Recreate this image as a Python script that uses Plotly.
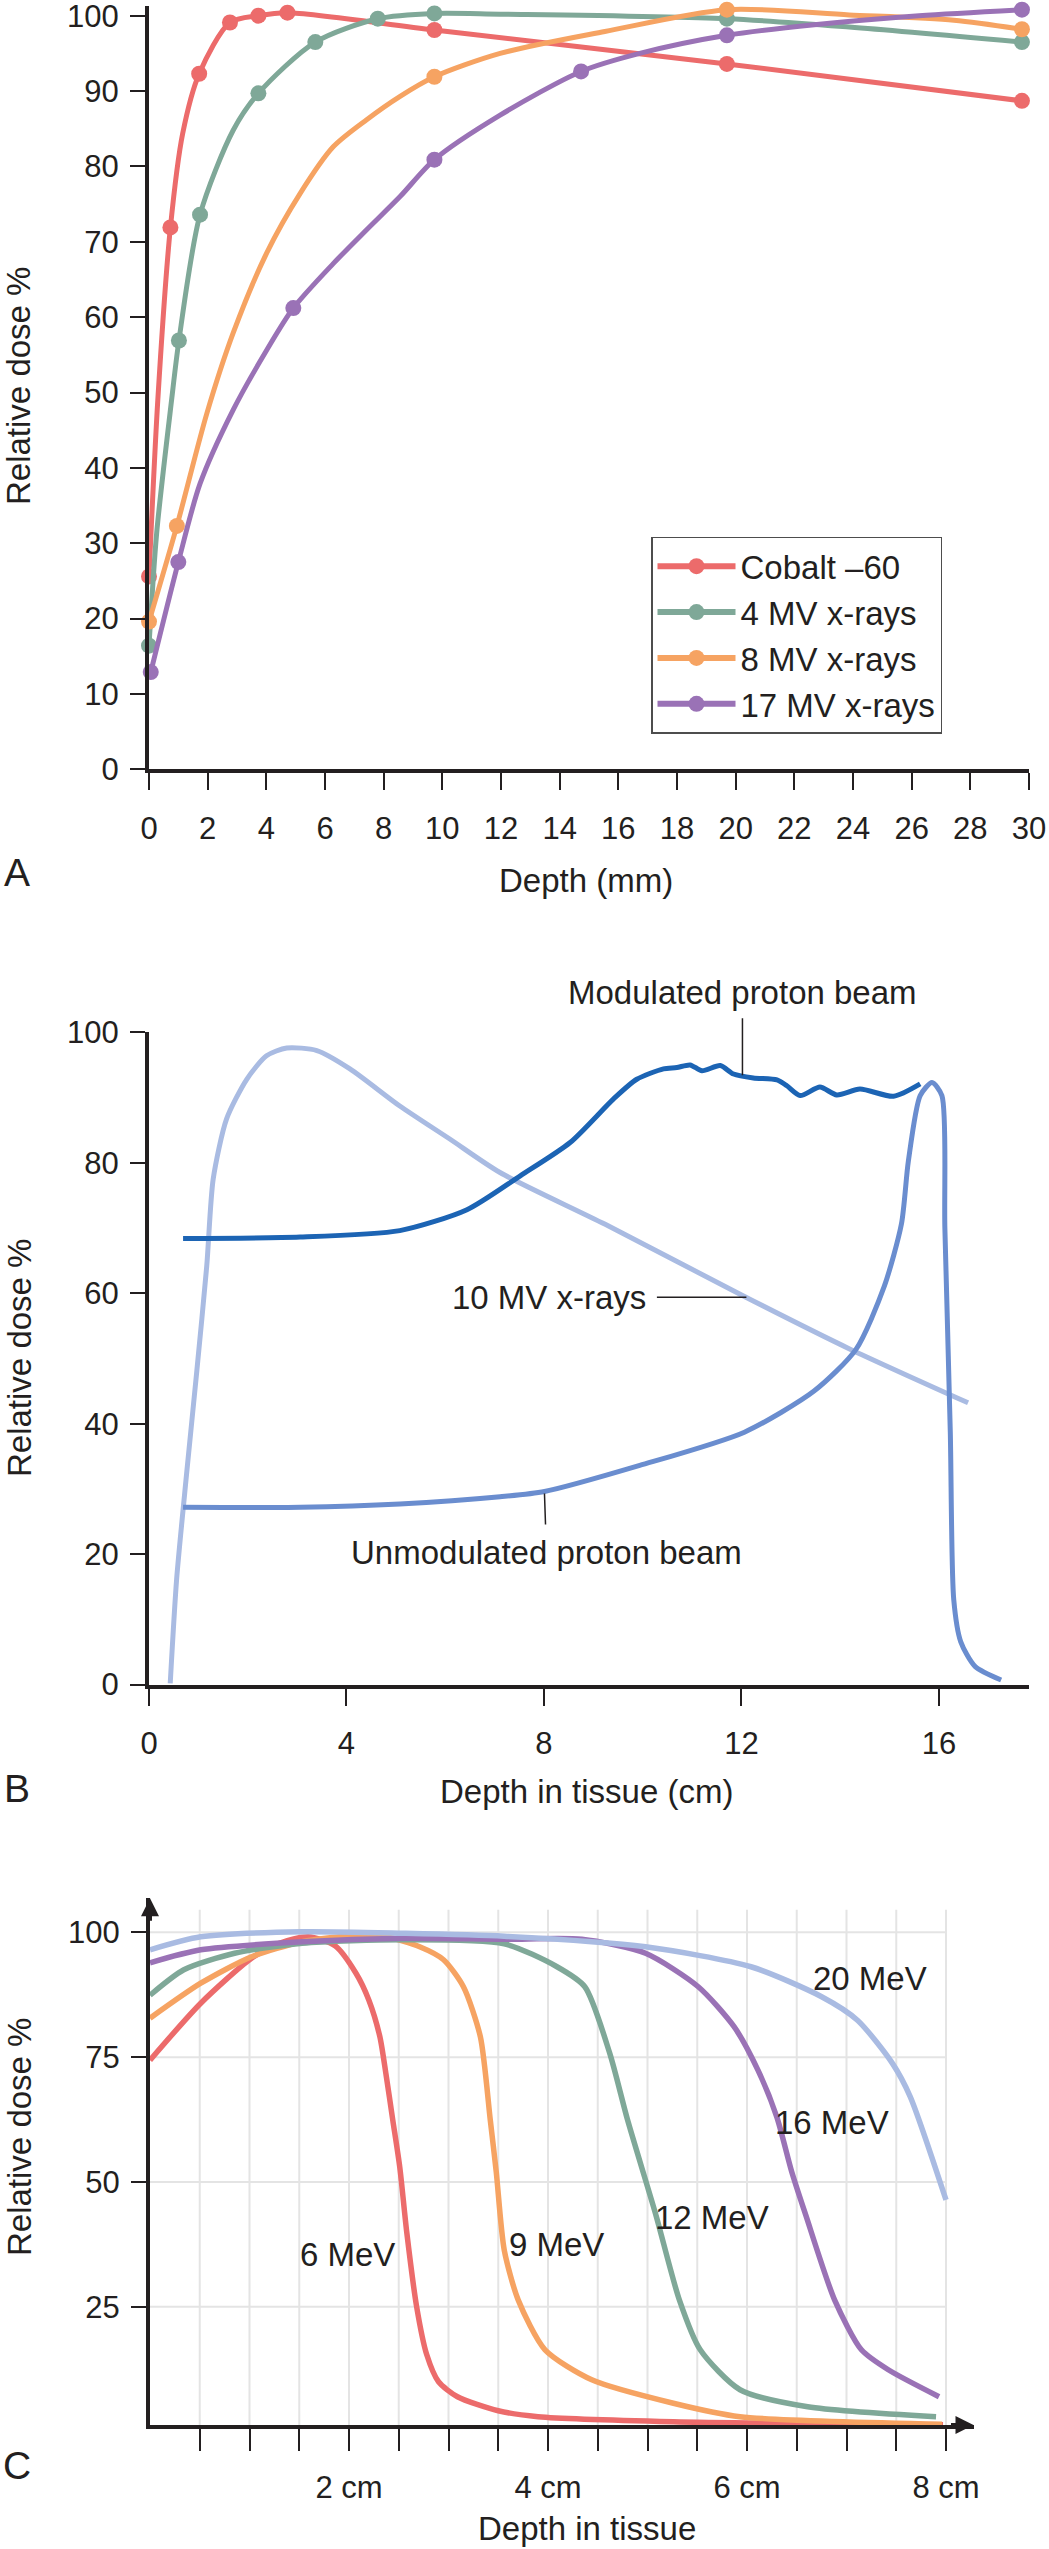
import plotly.graph_objects as go

W, H = 1049, 2549
INK = "#231f20"
FONT = "Liberation Sans, Arial, Helvetica, sans-serif"

# ---------------- Panel A data (depth in mm, relative dose %) ----------------
a_names = ["Cobalt –60", "4 MV x-rays", "8 MV x-rays", "17 MV x-rays"]
a_colors = ["#ec6b6b", "#7fa898", "#f6a362", "#9a72b6"]

cobalt_x = [0, 0.73, 1.71, 2.76, 3.73, 4.72, 9.73, 19.70, 29.76]
cobalt_y = [25.6, 71.9, 92.3, 99.1, 100.0, 100.4, 98.1, 93.6, 88.7]
cobalt_curve_x = [0.30, 1.15]
cobalt_curve_y = [49.0, 84.4]

mv4_x = [0, 1.02, 1.74, 3.73, 5.67, 7.80, 9.73, 19.70, 29.76]
mv4_y = [16.4, 56.9, 73.6, 89.7, 96.5, 99.6, 100.3, 99.6, 96.5]
mv4_curve_x = [0.26, 0.77, 2.87, 11.97, 23.87]
mv4_curve_y = [31.3, 49.0, 84.8, 100.2, 98.5]

mv8_x = [0, 0.95, 9.73, 19.70, 29.76]
mv8_y = [19.6, 32.3, 91.9, 100.8, 98.2]
mv8_curve_x = [1.97, 2.87, 4.01, 5.15, 6.28, 7.42, 8.56, 11.97, 15.54, 23.87, 27.44]
mv8_curve_y = [47.2, 57.9, 68.5, 76.4, 82.6, 86.2, 89.3, 95.0, 97.9, 100.1, 99.4]

mv17_x = [0.06, 1.00, 4.92, 9.73, 14.73, 19.70, 29.76]
mv17_y = [12.9, 27.5, 61.2, 80.9, 92.6, 97.4, 100.8]
mv17_curve_x = [1.74, 2.87, 4.01, 6.28, 7.42, 8.56, 11.97, 16.73, 22.68, 26.25]
mv17_curve_y = [37.9, 47.7, 55.6, 67.1, 71.6, 76.0, 86.8, 95.0, 98.8, 100.0]

a_marks = [(cobalt_x, cobalt_y), (mv4_x, mv4_y), (mv8_x, mv8_y), (mv17_x, mv17_y)]
a_curves = [(cobalt_curve_x, cobalt_curve_y), (mv4_curve_x, mv4_curve_y),
            (mv8_curve_x, mv8_curve_y), (mv17_curve_x, mv17_curve_y)]
a_xticks = list(range(0, 31, 2))
a_yticks = list(range(0, 101, 10))

# ---------------- Panel B data (depth in cm, relative dose %) ----------------
xr10_x = [0.43, 0.56, 0.76, 0.97, 1.17, 1.30, 1.57, 1.98, 2.38, 2.79, 3.40, 4.07, 5.08,
          6.10, 7.11, 9.23, 12.06, 14.18, 16.59]
xr10_y = [0.2, 16.2, 32.2, 48.2, 64.2, 77.5, 86.7, 92.8, 96.4, 97.6, 97.2, 94.4, 88.7,
          83.6, 78.5, 70.6, 59.5, 51.5, 43.2]
unmod_x = [0.69, 3.06, 5.08, 7.11, 8.01, 9.94, 12.06, 13.47, 14.32, 14.89, 15.24, 15.38,
           15.62, 15.86, 16.06, 16.12, 16.23, 16.30, 16.44, 16.73, 17.26]
unmod_y = [27.2, 27.2, 27.7, 28.8, 29.6, 33.6, 38.7, 45.0, 51.4, 61.0, 70.6, 80.2,
           90.3, 92.3, 90.3, 70.0, 38.7, 13.0, 6.6, 2.8, 0.7]
mod_x = [0.69, 3.06, 5.08, 6.44, 7.52, 8.53, 9.41, 9.88, 10.42, 10.69, 10.96, 11.20, 11.57,
         11.84, 12.24, 12.72, 12.92, 13.19, 13.59, 13.93, 14.40, 15.08, 15.62]
mod_y = [68.4, 68.6, 69.6, 72.8, 78.0, 83.1, 89.8, 92.8, 94.4, 94.6, 95.0, 94.1, 94.9,
         93.6, 93.0, 92.7, 91.8, 90.3, 91.6, 90.4, 91.3, 90.2, 92.1]
b_xticks = [0, 4, 8, 12, 16]
b_yticks = [0, 20, 40, 60, 80, 100]

# ---------------- Panel C data (depth in cm, relative dose %) ----------------
c_names = ["6 MeV", "9 MeV", "12 MeV", "16 MeV", "20 MeV"]
c_colors = ["#ec6b6b", "#f6a362", "#7fa898", "#9a72b6", "#a9bbe2"]
e6_x = [0, 0.51, 1.02, 1.30, 1.59, 1.86, 2.07, 2.20, 2.31, 2.37, 2.44, 2.51, 2.58, 2.68,
        2.78, 2.90, 3.09, 3.50, 3.90, 5.26, 7.97]
e6_y = [74.4, 85.8, 94.8, 97.8, 99.1, 97.3, 91.8, 86.4, 79.1, 71.8, 62.4, 53.0, 40.0, 25.0,
        15.5, 10.0, 7.0, 4.2, 3.0, 2.0, 1.4]
e9_x = [0, 0.51, 1.02, 1.53, 2.03, 2.37, 2.71, 2.95, 3.15, 3.32, 3.42, 3.48, 3.56, 3.70,
        3.97, 4.44, 5.26, 5.93, 7.96]
e9_y = [82.8, 89.8, 95.1, 98.1, 99.3, 99.1, 97.1, 94.5, 89.1, 79.1, 62.4, 52.0, 36.4, 26.4,
        16.4, 10.4, 5.7, 3.0, 1.5]
e12_x = [0, 0.34, 0.85, 1.53, 2.54, 3.56, 4.09, 4.37, 4.62, 4.80, 5.08, 5.32, 5.53, 5.93,
         6.61, 7.90]
e12_y = [87.4, 92.5, 95.8, 97.8, 98.5, 97.7, 93.1, 89.1, 75.8, 62.4, 43.7, 26.4, 16.4, 8.4,
         5.0, 3.0]
e16_x = [0, 0.51, 1.53, 2.54, 3.56, 4.34, 4.98, 5.51, 5.87, 6.11, 6.30, 6.45, 6.59, 6.88,
         7.15, 7.42, 7.93]
e16_y = [93.9, 96.5, 98.1, 98.8, 98.6, 98.6, 95.8, 89.1, 81.1, 72.4, 63.0, 52.0, 43.4, 26.4,
         16.4, 12.4, 7.0]
e20_x = [0, 0.51, 1.53, 2.54, 3.56, 4.98, 6.04, 6.75, 7.11, 7.46, 7.64, 8.0]
e20_y = [96.5, 99.1, 100.1, 99.8, 99.2, 97.1, 93.1, 87.1, 82.4, 73.8, 67.1, 46.4]
c_curves = [(e6_x, e6_y), (e9_x, e9_y), (e12_x, e12_y), (e16_x, e16_y), (e20_x, e20_y)]
c_label_x = [1.98, 4.09, 5.65, 6.85, 7.24]
c_label_y = [35.4, 37.4, 42.8, 62.0, 90.8]
c_xticks = [0.5, 1.0, 1.5, 2.0, 2.5, 3.0, 3.5, 4.0, 4.5, 5.0, 5.5, 6.0, 6.5, 7.0, 7.5, 8.0]
c_xticktext = ["", "", "", "2 cm", "", "", "", "4 cm", "", "", "", "6 cm", "", "", "", "8 cm"]
c_yticks = [25, 50, 75, 100]


def fx(px):
    return px / W


def fy(py):
    return 1 - py / H


fig = go.Figure()

# ---- Panel A traces
for name, col, (mx, my), (cx, cy) in zip(a_names, a_colors, a_marks, a_curves):
    pts = sorted(zip(list(mx) + list(cx), list(my) + list(cy)))
    fig.add_trace(go.Scatter(x=[p[0] for p in pts], y=[p[1] for p in pts], mode="lines",
                             line=dict(color=col, width=5, shape="spline", smoothing=0.8),
                             showlegend=False, hoverinfo="skip", xaxis="x", yaxis="y"))
    fig.add_trace(go.Scatter(x=mx, y=my, mode="markers", marker=dict(color=col, size=16),
                             showlegend=False, xaxis="x", yaxis="y", cliponaxis=False))
for i, (name, col) in enumerate(zip(a_names, a_colors)):
    fig.add_trace(go.Scatter(x=[None], y=[None], mode="lines+markers", name=name,
                             legendgroup="g%d" % i,
                             line=dict(color=col, width=6), marker=dict(color=col, size=16),
                             xaxis="x", yaxis="y"))

# ---- Panel B traces
for xs, ys, col in [(xr10_x, xr10_y, "#a9bbe2"), (unmod_x, unmod_y, "#6a8dcf"),
                    (mod_x, mod_y, "#1c64b4")]:
    fig.add_trace(go.Scatter(x=xs, y=ys, mode="lines",
                             line=dict(color=col, width=5, shape="spline", smoothing=0.7),
                             showlegend=False, hoverinfo="skip", xaxis="x2", yaxis="y2"))

# ---- Panel C traces
for (xs, ys), col in zip(c_curves, c_colors):
    fig.add_trace(go.Scatter(x=xs, y=ys, mode="lines",
                             line=dict(color=col, width=5.5, shape="spline", smoothing=0.7),
                             showlegend=False, hoverinfo="skip", xaxis="x3", yaxis="y3"))

tickfont = dict(family=FONT, size=31, color=INK)
axis_common = dict(showline=True, linecolor=INK, linewidth=4, ticks="outside", tickwidth=2,
                   tickcolor=INK, showgrid=False, zeroline=False, tickfont=tickfont,
                   fixedrange=True, automargin=False, ticklabeloverflow="allow")

A_YMAX = 101.3
C_X0, C_PX, C_TIP = 150.0, 99.5, 974.0
C_XMAX = (C_TIP - C_X0) / C_PX
C_YMIN = 1.34
C_YMAX = C_YMIN + (2425 - 1898) / 4.994

fig.update_layout(
    width=W, height=H, margin=dict(l=0, r=0, t=0, b=0, autoexpand=False),
    paper_bgcolor="white", plot_bgcolor="white",
    font=dict(family=FONT, color=INK),
    xaxis=dict(domain=[fx(149), fx(1029)], range=[0, 30], tickvals=a_xticks, ticklen=17,
               ticklabelstandoff=11, anchor="y", **axis_common),
    yaxis=dict(domain=[fy(769.3), fy(769.3 - 7.536 * A_YMAX)], range=[0, A_YMAX],
               tickvals=a_yticks, ticklen=15, ticklabelstandoff=5, anchor="x", **axis_common),
    xaxis2=dict(domain=[fx(149), fx(1028.8)], range=[0, 17.82], tickvals=b_xticks,
                ticklen=17, ticklabelstandoff=11, anchor="y2", **axis_common),
    yaxis2=dict(domain=[fy(1684.6), fy(1032.3)], range=[0, 100], tickvals=b_yticks,
                ticklen=15, ticklabelstandoff=5, anchor="x2", **axis_common),
    xaxis3=dict(domain=[fx(C_X0), fx(C_TIP)], range=[0, C_XMAX], tickvals=c_xticks,
                ticktext=c_xticktext, ticklen=22, ticklabelstandoff=10, anchor="y3",
                **axis_common),
    yaxis3=dict(domain=[fy(2425), fy(1898)], range=[C_YMIN, C_YMAX], tickvals=c_yticks,
                ticklen=15, ticklabelstandoff=5, anchor="x3", **axis_common),
    showlegend=True,
    legend=dict(x=fx(651), y=fy(536.7), xanchor="left", yanchor="top",
                bordercolor="#4d4d4d", borderwidth=1.5, bgcolor="white",
                font=dict(family=FONT, size=33, color=INK), tracegroupgap=0,
                itemwidth=78, traceorder="normal"),
)

shapes = []
for v in c_xticks:
    shapes.append(dict(type="line", xref="x3", yref="y3", x0=v, x1=v, y0=C_YMIN, y1=104.5,
                       line=dict(color="#e4e4e4", width=2), layer="below"))
for v in c_yticks:
    shapes.append(dict(type="line", xref="x3", yref="y3", x0=0, x1=c_xticks[-1], y0=v, y1=v,
                       line=dict(color="#e4e4e4", width=2), layer="below"))
fig.update_layout(shapes=shapes)

ann = []


def text(x, y, s, size=33, xref="paper", yref="paper", angle=0, **kw):
    d = dict(x=x, y=y, xref=xref, yref=yref, text=s, showarrow=False, textangle=angle,
             font=dict(family=FONT, size=size, color=INK), xanchor="center",
             yanchor="middle")
    d.update(kw)
    ann.append(d)


# axis titles and panel letters
text(fx(585.5), fy(880), "Depth (mm)")
text(fx(19), fy(386), "Relative dose %", angle=-90)
text(fx(17), fy(872.5), "A", size=39)
text(fx(586), fy(1791.7), "Depth in tissue (cm)")
text(fx(19), fy(1358), "Relative dose %", angle=-90)
text(fx(17), fy(1788), "B", size=39)
text(fx(587), fy(2528), "Depth in tissue")
text(fx(19), fy(2137), "Relative dose %", angle=-90)
text(fx(17), fy(2465), "C", size=39)

# panel B callouts with leader lines
ann.append(dict(x=12.02, y=93.4, xref="x2", yref="y2", text="Modulated proton beam",
                showarrow=True, arrowhead=0, arrowwidth=1.5, arrowcolor=INK, ax=0, ay=-83,
                startstandoff=6, font=dict(family=FONT, size=33, color=INK)))
ann.append(dict(x=12.10, y=59.4, xref="x2", yref="y2", text="10 MV x-rays",
                showarrow=True, arrowhead=0, arrowwidth=1.5, arrowcolor=INK, ax=-197, ay=0,
                startstandoff=9, font=dict(family=FONT, size=33, color=INK)))
ann.append(dict(x=8.01, y=29.3, xref="x2", yref="y2", text="Unmodulated proton beam",
                showarrow=True, arrowhead=0, arrowwidth=1.5, arrowcolor=INK, ax=2, ay=59,
                startstandoff=8, font=dict(family=FONT, size=33, color=INK)))

# panel C curve labels
for nm, lx, ly in zip(c_names, c_label_x, c_label_y):
    text(lx, ly, nm, xref="x3", yref="y3")

# panel C axis arrowheads
ann.append(dict(x=C_XMAX - 0.005, y=C_YMIN, xref="x3", yref="y3", text="", showarrow=True,
                arrowhead=2, arrowsize=0.9, arrowwidth=4, arrowcolor=INK, ax=-24, ay=0))
ann.append(dict(x=0, y=C_YMAX - 0.05, xref="x3", yref="y3", text="", showarrow=True,
                arrowhead=2, arrowsize=0.9, arrowwidth=4, arrowcolor=INK, ax=0, ay=24))

fig.update_layout(annotations=ann)
fig.write_html(
    "out.html",
    config={"displayModeBar": False},
    post_script="document.body.style.margin='0';"
                "document.documentElement.style.overflow='hidden';",
)
